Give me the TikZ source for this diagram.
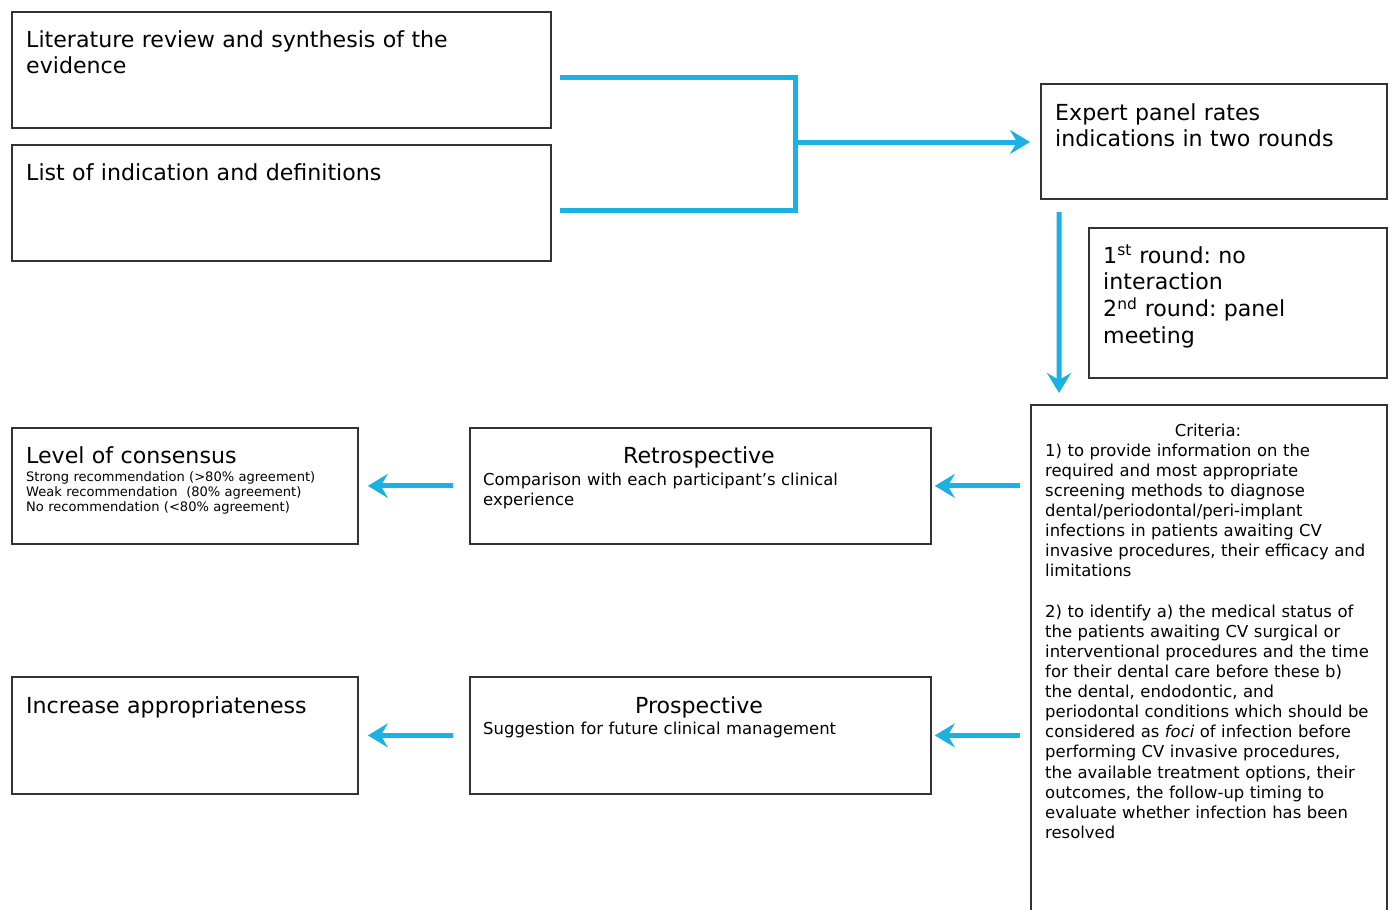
\documentclass[tikz,border=0pt]{standalone}
\usepackage{fontspec}
\setmainfont{DejaVu Sans}
\usetikzlibrary{arrows.meta}
\frenchspacing
\definecolor{flowblue}{HTML}{1BB1E2}
\definecolor{boxgray}{HTML}{333333}
\tikzset{
  boxnode/.style={draw=boxgray, line width=1.8bp, anchor=north west, inner sep=0pt, minimum width=#1},
  bigtxt/.style={font=\fontsize{22.2}{27}\selectfont, anchor=base west, inner sep=0pt, text width=330bp, align=left},
  midtxt/.style={font=\fontsize{16.5}{20.2}\selectfont, anchor=base west, inner sep=0pt, text width=345bp, align=left},
  smalltxt/.style={font=\fontsize{13.1}{15.5}\selectfont, anchor=base west, inner sep=0pt, text width=330bp, align=left},
  bluepath/.style={draw=flowblue, line width=5bp},
  arr/.style={draw=flowblue, line width=5bp, -{Stealth[length=20bp,width=24bp,inset=7bp]}},
}
\begin{document}
\begin{tikzpicture}[x=1bp,y=-1bp]
\useasboundingbox (0,0) rectangle (1389,909);
\clip (0,0) rectangle (1389,909);
% boxes
\node[boxnode=539bp, minimum height=116bp] (lit) at (11,11) {};
\node[boxnode=539bp, minimum height=116bp] (list) at (11,144) {};
\node[boxnode=346bp, minimum height=115bp] (expert) at (1040,83) {};
\node[boxnode=298bp, minimum height=150bp] (rounds) at (1088,227) {};
\node[boxnode=356bp, minimum height=520bp] (crit) at (1030,404) {};
\node[boxnode=346bp, minimum height=116bp] (level) at (11,427) {};
\node[boxnode=461bp, minimum height=116bp] (retro) at (469,427) {};
\node[boxnode=346bp, minimum height=117bp] (incr) at (11,676) {};
\node[boxnode=461bp, minimum height=117bp] (prosp) at (469,676) {};
% texts
\node[bigtxt, text width=510bp] (tlit) at (26,47) {Literature review and synthesis of the\\evidence};
\node[bigtxt, text width=510bp] (tlist) at (26,180) {List of indication and definitions};
\node[bigtxt] (texpert) at (1055,120) {Expert panel rates\\indications in two rounds};
\node[bigtxt, text width=280bp] (trounds) at (1103,263) {1\textsuperscript{st} round: no\\interaction\\2\textsuperscript{nd} round: panel\\meeting};
\node[bigtxt] (tlevel) at (26,463) {Level of consensus};
\node[smalltxt] (tlevel2) at (26,481) {Strong recommendation (>80\% agreement)\\Weak recommendation~~(80\% agreement)\\No recommendation (<80\% agreement)};
\node[font=\fontsize{22.2}{27}\selectfont, anchor=base, inner sep=0pt] (tretro) at (699,463) {Retrospective};
\node[midtxt, text width=440bp] (tretro2) at (483,485) {Comparison with each participant’s clinical\\experience};
\node[bigtxt] (tincr) at (26,713) {Increase appropriateness};
\node[font=\fontsize{22.2}{27}\selectfont, anchor=base, inner sep=0pt] (tprosp) at (699,713) {Prospective};
\node[midtxt, text width=440bp] (tprosp2) at (483,734) {Suggestion for future clinical management};
\node[font=\fontsize{16.5}{20.2}\selectfont, anchor=base, inner sep=0pt] (tcrit) at (1208,436) {Criteria:};
\node[midtxt] (tcrit2) at (1045,456) {1) to provide information on the\\
required and most appropriate\\
screening methods to diagnose\\
dental/periodontal/peri-implant\\
infections in patients awaiting CV\\
invasive procedures, their efficacy and\\
limitations\\[20.2bp]
2) to identify a) the medical status of\\
the patients awaiting CV surgical or\\
interventional procedures and the time\\
for their dental care before these b)\\
the dental, endodontic, and\\
periodontal conditions which should be\\
considered as \textit{foci} of infection before\\
performing CV invasive procedures,\\
the available treatment options, their\\
outcomes, the follow-up timing to\\
evaluate whether infection has been\\
resolved};
% connectors
\coordinate (t1) at (560,77);
\coordinate (t2) at (560,210);
\coordinate (j) at (795,142);
\draw[bluepath, line join=miter] (t1) -| (j) |- (t2);
\draw[arr, shorten >=10bp] (j) -- (j -| expert.west);
\draw[arr, shorten <=12bp, shorten >=11bp] ([xshift=19bp]expert.south west) -- ([xshift=29bp]crit.north west);
\draw[arr, shorten <=10bp, shorten >=3bp] (retro.east -| crit.west) -- (retro.east);
\draw[arr, shorten <=10bp, shorten >=3bp] (prosp.east -| crit.west) -- (prosp.east);
\draw[arr, shorten <=16bp, shorten >=9bp] (retro.west) -- (level.east);
\draw[arr, shorten <=16bp, shorten >=9bp] (prosp.west) -- (incr.east);
\end{tikzpicture}
\end{document}
